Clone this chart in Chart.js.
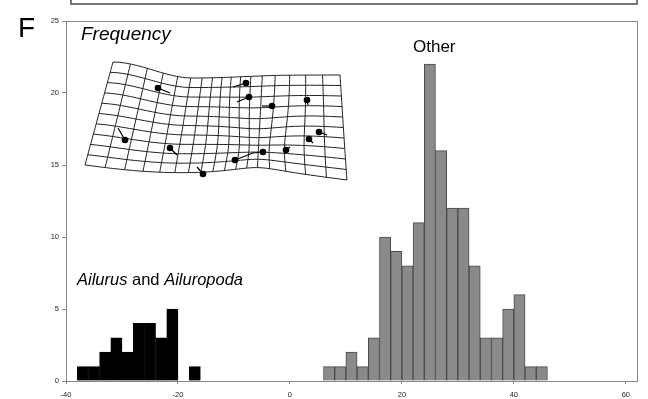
<!DOCTYPE html>
<html>
<head>
<meta charset="utf-8">
<script src="https://cdn.jsdelivr.net/npm/chart.js@4"></script>
<style>
  html, body { margin: 0; padding: 0; background: #fff; }
  #wrap { width: 648px; height: 399px; position: relative; }
</style>
</head>
<body>
<div id="wrap"><canvas id="histChart"></canvas></div>
<script>
// bin centres (bin width 2) and counts
const pandaBins = [-37, -35, -33, -31, -29, -27, -25, -23, -21, -17];
const pandaCounts = [1, 1, 2, 3, 2, 4, 4, 3, 5, 1];
const otherBins = [7, 9, 11, 13, 15, 17, 19, 21, 23, 25, 27, 29, 31, 33, 35, 37, 39, 41, 43, 45];
const otherCounts = [1, 1, 2, 1, 3, 10, 9, 8, 11, 22, 16, 12, 12, 8, 3, 3, 5, 6, 1, 1];
const xTicks = [-40, -20, 0, 20, 40, 60];
const yTicks = [0, 5, 10, 15, 20, 25];

// landmarks of the deformation grid inset: dot position and tip of its shift vector
const landmarks = [
  [158, 88, 170, 93], [246, 83, 233, 87], [249, 97, 237, 102], [272, 106, 262, 106],
  [307, 100, 308, 105], [125, 140, 118, 128], [170, 148, 177, 155], [319, 132, 327, 135],
  [309, 139, 313, 143], [286, 150, 290, 147], [263, 152, 253, 153], [235, 160, 253, 153],
  [203, 174, 197, 167]
];

Chart.defaults.font.family = '"Liberation Sans", Arial, sans-serif';
Chart.defaults.color = '#222';

function smooth(t) { t = Math.max(0, Math.min(1, t)); return t * t * (3 - 2 * t); }

// warped grid point for u,v in [0,1]
function warp(u, v) {
  u = u + 0.05 * Math.sin(2 * Math.PI * u);
  const tx = 113 + 227 * u, ty = 62 + 16 * smooth(u / 0.35) - 3 * smooth((u - 0.35) / 0.4);
  const bx = 85 + 262 * u, by = 165 + 15 * u + 3 * Math.sin(Math.PI * 2 * u);
  let x = tx + (bx - tx) * v, y = ty + (by - ty) * v;
  // pinch near lower middle landmark
  const cx = 258, cy = 150;
  const dx = cx - x, dy = cy - y;
  const w = Math.exp(-(dx * dx + dy * dy) / (38 * 38));
  x += dx * 0.3 * w; y += dy * 0.3 * w;
  return [x, y];
}

const decor = {
  id: 'decor',
  afterDraw(chart) {
    const ctx = chart.ctx, a = chart.chartArea;
    ctx.save();
    // plot frame
    ctx.strokeStyle = '#888';
    ctx.lineWidth = 1;
    ctx.strokeRect(a.left + 0.5, a.top + 0.5, a.right - a.left, a.bottom - a.top);
    // bottom of the panel above
    ctx.strokeStyle = '#777';
    ctx.lineWidth = 2;
    ctx.beginPath();
    ctx.moveTo(a.left + 5, 0); ctx.lineTo(a.left + 5, 4); ctx.lineTo(a.right, 4); ctx.lineTo(a.right, 0);
    ctx.stroke();

    // deformation grid inset
    const cols = 17, rows = 10, steps = 24;
    ctx.strokeStyle = '#222';
    ctx.lineWidth = 1;
    for (let i = 0; i <= cols; i++) {
      ctx.beginPath();
      for (let k = 0; k <= steps; k++) {
        const p = warp(i / cols, k / steps);
        k ? ctx.lineTo(p[0], p[1]) : ctx.moveTo(p[0], p[1]);
      }
      ctx.stroke();
    }
    for (let j = 0; j <= rows; j++) {
      ctx.beginPath();
      for (let k = 0; k <= steps * 2; k++) {
        const p = warp(k / (steps * 2), j / rows);
        k ? ctx.lineTo(p[0], p[1]) : ctx.moveTo(p[0], p[1]);
      }
      ctx.stroke();
    }
    ctx.strokeStyle = '#000';
    ctx.lineWidth = 1.2;
    ctx.fillStyle = '#000';
    landmarks.forEach(l => {
      ctx.beginPath(); ctx.moveTo(l[0], l[1]); ctx.lineTo(l[2], l[3]); ctx.stroke();
      ctx.beginPath(); ctx.arc(l[0], l[1], 3.3, 0, Math.PI * 2); ctx.fill();
    });

    // labels
    ctx.fillStyle = '#000';
    ctx.textBaseline = 'alphabetic';
    ctx.font = '28px "Liberation Sans", Arial, sans-serif';
    ctx.fillText('F', 18, 37);
    ctx.font = 'italic 19px "Liberation Sans", Arial, sans-serif';
    ctx.fillText('Frequency', 81, 40);
    ctx.font = '17px "Liberation Sans", Arial, sans-serif';
    ctx.fillText('Other', 413, 52);
    let x = 77;
    [['Ailurus', 'italic '], [' and ', ''], ['Ailuropoda', 'italic ']].forEach(s => {
      ctx.font = s[1] + '16.5px "Liberation Sans", Arial, sans-serif';
      ctx.fillText(s[0], x, 285);
      x += ctx.measureText(s[0]).width;
    });
    ctx.restore();
  }
};

new Chart(document.getElementById('histChart').getContext('2d'), {
  type: 'bar',
  data: {
    datasets: [{
      label: 'Ailurus and Ailuropoda',
      data: pandaBins.map((b, i) => ({ x: b, y: pandaCounts[i] })),
      backgroundColor: '#000',
      borderColor: '#000',
      borderWidth: 1,
      grouped: false,
      barPercentage: 1,
      categoryPercentage: 1
    }, {
      label: 'Other',
      data: otherBins.map((b, i) => ({ x: b, y: otherCounts[i] })),
      backgroundColor: '#8a8a8a',
      borderColor: '#4a4a4a',
      borderWidth: 1,
      grouped: false,
      barPercentage: 1,
      categoryPercentage: 1
    }]
  },
  options: {
    responsive: true,
    maintainAspectRatio: false,
    animation: false,
    layout: { padding: { left: 0, top: 21, right: 11, bottom: 0 } },
    plugins: { legend: { display: false }, tooltip: { enabled: false } },
    scales: {
      x: {
        type: 'linear',
        min: -40,
        max: 62,
        offset: false,
        afterBuildTicks: s => { s.ticks = xTicks.map(v => ({ value: v })); },
        afterFit: s => { s.height = 18; },
        border: { color: '#888' },
        grid: { offset: false, drawOnChartArea: false, tickLength: 3, color: '#888' },
        ticks: { font: { size: 7.5 }, padding: 6, maxRotation: 0 }
      },
      y: {
        min: 0,
        max: 25,
        afterBuildTicks: s => { s.ticks = yTicks.map(v => ({ value: v })); },
        afterFit: s => { s.width = 66; },
        border: { color: '#888' },
        grid: { drawOnChartArea: false, tickLength: 4, color: '#888' },
        ticks: { font: { size: 7.5 }, padding: 3 }
      }
    }
  },
  plugins: [decor]
});
</script>
</body>
</html>
